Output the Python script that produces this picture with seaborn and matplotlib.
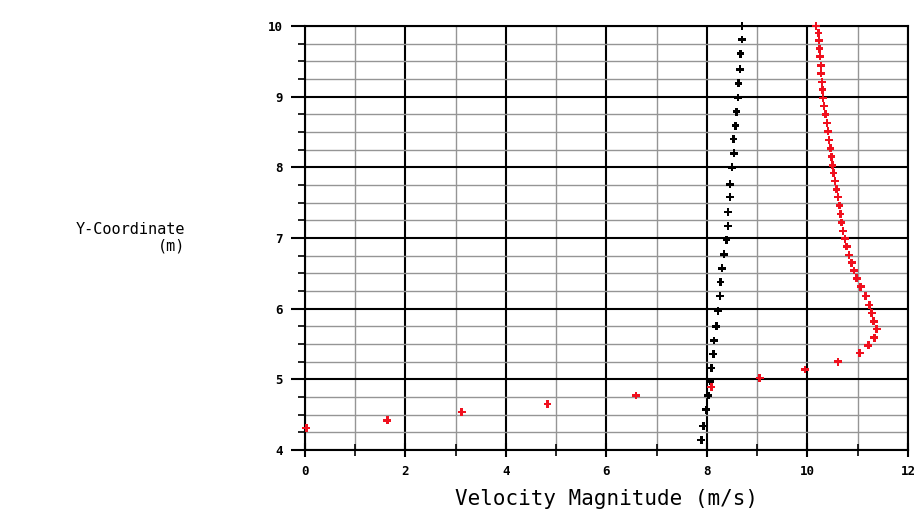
import pandas as pd
import matplotlib
matplotlib.use("Agg")
import matplotlib.pyplot as plt
import seaborn as sns
from matplotlib.ticker import MultipleLocator

# black profile (velocity, y)
black_vel = [8.70, 8.70, 8.67, 8.66, 8.63, 8.62, 8.59, 8.57, 8.53, 8.54,
             8.50, 8.46, 8.46, 8.42, 8.42, 8.39, 8.34, 8.30, 8.27, 8.26,
             8.22, 8.19, 8.14, 8.13, 8.09, 8.06, 8.03, 7.98, 7.93, 7.89]
black_y = [10.00, 9.81, 9.61, 9.39, 9.19, 8.99, 8.79, 8.59, 8.40, 8.20,
           8.00, 7.76, 7.58, 7.37, 7.17, 6.97, 6.77, 6.57, 6.38, 6.18,
           5.97, 5.75, 5.55, 5.36, 5.16, 4.97, 4.77, 4.57, 4.34, 4.14]

# red profile (velocity, y)
red_vel = [10.17, 10.22, 10.23, 10.24, 10.25, 10.27, 10.27, 10.29, 10.30, 10.31,
           10.33, 10.36, 10.39, 10.41, 10.43, 10.46, 10.48, 10.50, 10.52, 10.55,
           10.58, 10.61, 10.64, 10.66, 10.68, 10.71, 10.75, 10.78, 10.83, 10.88,
           10.93, 10.98, 11.06, 11.16, 11.23, 11.28, 11.32, 11.38, 11.33, 11.21,
           11.04, 10.61, 9.95, 9.05, 8.09, 6.59, 4.83, 3.12, 1.64, 0.03]
red_y = [10.00, 9.90, 9.80, 9.68, 9.57, 9.44, 9.33, 9.21, 9.10, 8.98,
         8.87, 8.75, 8.63, 8.51, 8.39, 8.27, 8.15, 8.03, 7.92, 7.81,
         7.69, 7.58, 7.46, 7.34, 7.22, 7.10, 6.99, 6.88, 6.76, 6.65,
         6.54, 6.43, 6.31, 6.18, 6.05, 5.94, 5.82, 5.71, 5.59, 5.48,
         5.37, 5.25, 5.14, 5.02, 4.89, 4.77, 4.65, 4.54, 4.42, 4.31]

df_black = pd.DataFrame({"vel": black_vel, "y": black_y})
df_red = pd.DataFrame({"vel": red_vel, "y": red_y})

sns.set_style("white")
plt.rcParams["font.family"] = ["DejaVu Sans Mono", "DejaVu Sans"]
plt.rcParams["text.color"] = "black"
plt.rcParams["axes.labelcolor"] = "black"

fig = plt.figure(figsize=(9.18, 5.22), dpi=100)
ax = fig.add_axes([0.332, 0.138, 0.657, 0.812])

ax.xaxis.set_major_locator(MultipleLocator(2))
ax.xaxis.set_minor_locator(MultipleLocator(1))
ax.yaxis.set_major_locator(MultipleLocator(1))
ax.yaxis.set_minor_locator(MultipleLocator(0.25))
ax.grid(which="minor", color="#959595", linewidth=1.0, zorder=0)
ax.grid(which="major", color="black", linewidth=1.5, zorder=0)
ax.set_axisbelow(True)

sns.scatterplot(data=df_black, x="vel", y="y", ax=ax, color="black", marker="P",
                s=32, edgecolor="none", zorder=3, clip_on=False)
sns.scatterplot(data=df_red, x="vel", y="y", ax=ax, color="#f0101e", marker="P",
                s=32, edgecolor="none", zorder=3, clip_on=False)

ax.set_xlim(0, 12)
ax.set_ylim(4, 10)
ax.set_xticks(range(0, 13, 2))
ax.set_yticks(range(4, 11))

for sp in ax.spines.values():
    sp.set_color("black")
    sp.set_linewidth(1.5)

ax.tick_params(axis="both", which="both", bottom=True, left=True,
               colors="black", labelcolor="black")
ax.tick_params(axis="x", which="major", direction="inout", length=10, width=1.5,
               labelsize=9, pad=6)
ax.tick_params(axis="x", which="minor", direction="inout", length=8, width=1.2)
ax.tick_params(axis="y", which="major", direction="out", length=10, width=1.5,
               labelsize=9, pad=6)
ax.tick_params(axis="y", which="minor", direction="out", length=5, width=1.2)
for lab in ax.get_xticklabels() + ax.get_yticklabels():
    lab.set_fontweight("bold")

ax.set_xlabel("Velocity Magnitude (m/s)", fontsize=15, labelpad=8)
ax.set_ylabel("")
fig.text(0.202, 0.545, "Y-Coordinate\n(m)", fontsize=11, ha="right", va="center",
         multialignment="right", linespacing=1.1)

fig.savefig("out.png", dpi=100)
